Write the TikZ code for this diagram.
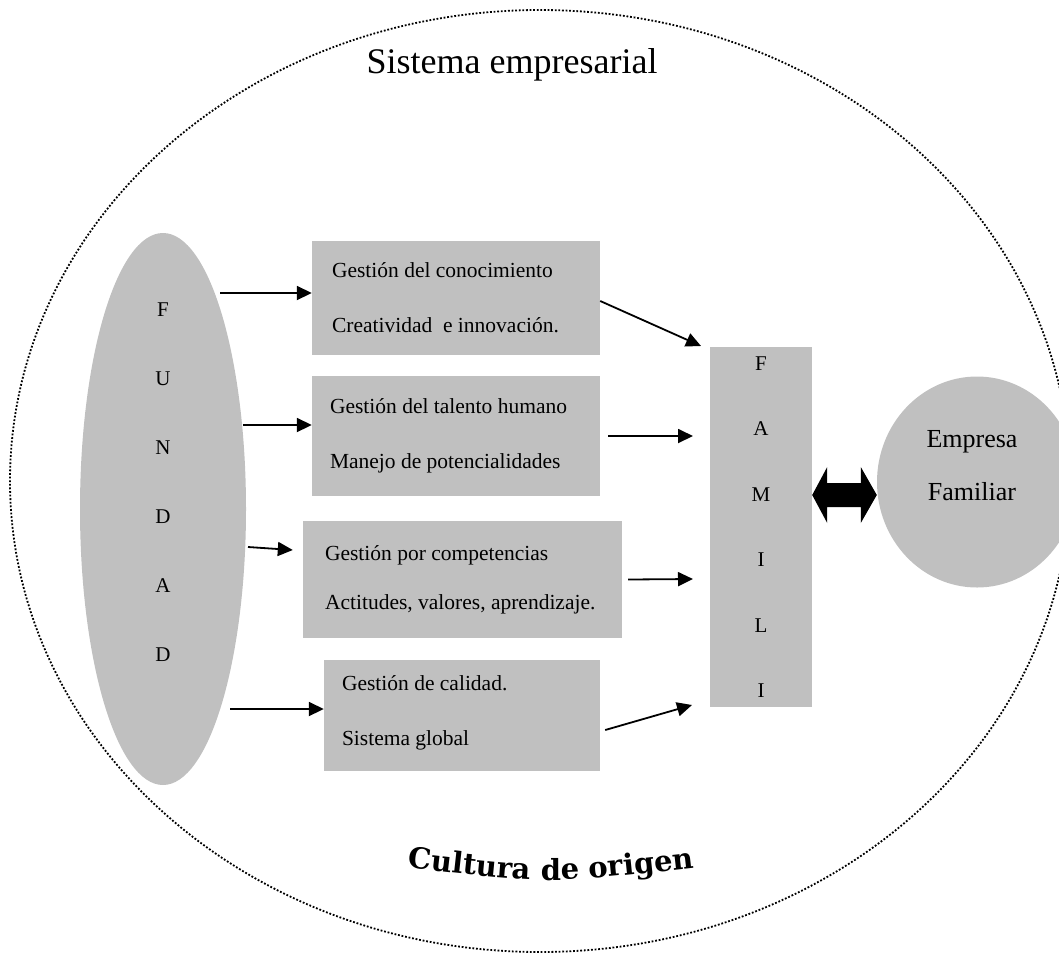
\documentclass[tikz,border=0pt]{standalone}
\usepackage{fontspec}
\setmainfont{Liberation Serif}
\newfontfamily\cultfont{DejaVu Serif}
\usetikzlibrary{shapes.geometric, arrows.meta, decorations.text, calc}
\definecolor{boxgray}{HTML}{C0C0C0}
\begin{document}
\begin{tikzpicture}[x=1pt, y=-1pt,
  blob/.style={ellipse, fill=boxgray, draw=none, inner sep=0pt},
  gbox/.style={rectangle, fill=boxgray, draw=none, inner sep=0pt},
  boxtxt/.style={anchor=west, align=left, inner sep=0pt, font=\fontsize{21.5}{55}\selectfont},
  conn/.style={-{Triangle[length=15pt,width=14pt]}, line width=1.8pt},
]
\useasboundingbox (0,0) rectangle (1059,954);

% outer boundary of the business system
\draw[line width=1.8pt, dash pattern=on 1.8pt off 1.8pt]
  (540,481) ellipse [x radius=530pt, y radius=471pt];
\node[font=\fontsize{36}{40}\selectfont, anchor=base] (title) at (512,73) {Sistema empresarial};

% founder
\node[blob, minimum width=166pt, minimum height=552pt] (fund) at (163,509) {};
\node[font=\fontsize{21}{69}\selectfont, align=center] (fundtxt) at (163,482) {F\\U\\N\\D\\A\\D};

% management boxes
\node[gbox, minimum width=288pt, minimum height=114pt] (b1) at (456,298) {};
\node[boxtxt] (b1t) at ([xshift=20pt]b1.west) {Gestión del conocimiento\\Creatividad~ e innovación.};
\node[gbox, minimum width=288pt, minimum height=120pt] (b2) at (456,436) {};
\node[boxtxt] (b2t) at ([xshift=18pt]b2.west) {Gestión del talento humano\\Manejo de potencialidades};
\node[gbox, minimum width=319pt, minimum height=117pt] (b3) at (462.5,579.5) {};
\node[boxtxt, font=\fontsize{21.5}{49}\selectfont] (b3t) at ([xshift=22pt]b3.west) {Gestión por competencias\\Actitudes, valores, aprendizaje.};
\node[gbox, minimum width=276pt, minimum height=111pt] (b4) at (462,715.5) {};
\node[boxtxt] (b4t) at ([xshift=18pt,yshift=3pt]b4.west) {Gestión de calidad.\\Sistema global};

% family column
\node[gbox, minimum width=102pt, minimum height=360pt, align=center,
      font=\fontsize{21}{65.5}\selectfont] (famili) at (761,527) {F\\A\\M\\I\\L\\I};

% family business
\node[blob, minimum width=200pt, minimum height=211pt] (empresa) at (977,482) {};
\node[font=\fontsize{26}{53}\selectfont, align=center] (emptxt) at (972,466) {Empresa\\Familiar};

% thick two-way arrow between family and business
\coordinate (dbl) at (845,495);
\fill let \p1=(famili.east |- dbl), \p2=(empresa.west |- dbl) in
  (\p1) -- (\x1+15pt,\y1+28pt) -- (\x1+15pt,\y1+12pt) -- (\x2-16pt,\y1+12pt)
  -- (\x2-16pt,\y1+28pt) -- (\x2,\y1) -- (\x2-16pt,\y1-28pt) -- (\x2-16pt,\y1-12pt)
  -- (\x1+15pt,\y1-12pt) -- (\x1+15pt,\y1-28pt) -- cycle;

% founder to management areas
\coordinate (s1) at (220,293);
\coordinate (s2) at (243,425);
\coordinate (s3) at (248,547);
\coordinate (s4) at (230,709);
\draw[conn] (s1) -- (s1 -| b1.west);
\draw[conn] (s2) -- (s2 -| b2.west);
\draw[conn] (s3) -- ([xshift=-10pt,yshift=29.5pt]b3.west);
\draw[conn] (s4) -- (s4 -| b4.west);

% management areas to family
\coordinate (t1) at (701,346);
\coordinate (t2) at (693,436);
\coordinate (t3) at (693,579);
\coordinate (t4) at (692,705);
\draw[conn] ([yshift=-3pt]b1.east) -- (t1);
\draw[conn] ([xshift=8pt]b2.east) -- (t2);
\draw[conn] ([xshift=6pt]b3.east) -- (t3);
\draw[conn] ([xshift=5pt,yshift=-14.5pt]b4.east) -- (t4);

% culture of origin, set along a gentle curve
\path[decorate, decoration={text along path, text align=center,
      text={|\cultfont\bfseries\fontsize{29}{30}\selectfont|Cultura de origen}}]
  (410,868) .. controls (550,884) .. (692,868);
\end{tikzpicture}
\end{document}
